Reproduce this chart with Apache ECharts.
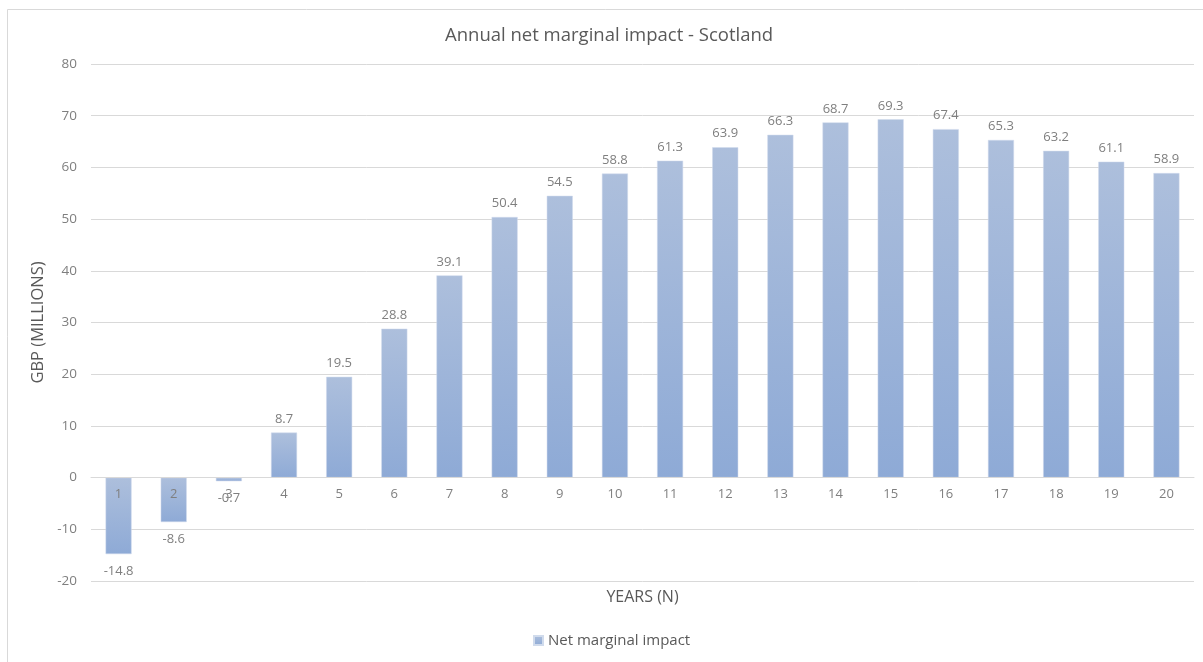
<!DOCTYPE html>
<html>
<head>
<meta charset="utf-8">
<script src="https://cdn.jsdelivr.net/npm/echarts@6/dist/echarts.min.js"></script>
<style>
  html, body { margin: 0; padding: 0; background: #ffffff; }
  #chart { width: 1203px; height: 662px; }
</style>
</head>
<body>
<div id="chart"></div>
<script>
// Year index on the horizontal axis
const years = ['1','2','3','4','5','6','7','8','9','10','11','12','13','14','15','16','17','18','19','20'];
// Net marginal impact per year, GBP millions
const netImpact = [-14.8, -8.6, -0.7, 8.7, 19.5, 28.8, 39.1, 50.4, 54.5, 58.8, 61.3, 63.9, 66.3, 68.7, 69.3, 67.4, 65.3, 63.2, 61.1, 58.9];

const FONT = '"Open Sans", "Liberation Sans", sans-serif';
const GREY = '#7f7f7f';

const Y_MIN = -20, Y_MAX = 80;
const GRID_TOP = 64, GRID_BOTTOM = 81, CHART_H = 662;
// distance from the bottom of the plot to the zero line, so the category axis sits on zero
const plotH = CHART_H - GRID_TOP - GRID_BOTTOM;
const zeroOffset = plotH * (0 - Y_MIN) / (Y_MAX - Y_MIN);

const barGradient = new echarts.graphic.LinearGradient(0, 0, 0, 1, [
  { offset: 0, color: '#adbfdc' },
  { offset: 1, color: '#8eaad6' }
]);

const chart = echarts.init(document.getElementById('chart'), null, { renderer: 'canvas' });

chart.setOption({
  backgroundColor: '#ffffff',
  animation: false,
  textStyle: { fontFamily: FONT },
  title: {
    text: 'Annual net marginal impact - Scotland',
    left: 440,
    top: 21,
    textStyle: { fontFamily: FONT, fontSize: 18.5, fontWeight: 'normal', color: '#595959' }
  },
  legend: {
    bottom: 9,
    left: 528,
    icon: 'rect',
    itemWidth: 9,
    itemHeight: 9,
    itemGap: 6,
    textStyle: { fontFamily: FONT, fontSize: 15, color: '#595959' },
    data: ['Net marginal impact']
  },
  graphic: [{
    type: 'rect',
    shape: { x: 7.5, y: 9.5, width: 1200, height: 700 },
    style: { fill: 'none', stroke: '#d9d9d9', lineWidth: 1 },
    silent: true
  }],
  grid: { left: 91, right: 9, top: GRID_TOP, bottom: GRID_BOTTOM, containLabel: false, outerBoundsMode: 'none' },
  xAxis: {
    type: 'category',
    data: years,
    z: 5,
    offset: -zeroOffset,
    name: 'YEARS (N)',
    nameLocation: 'middle',
    nameGap: 112,
    nameTextStyle: { fontFamily: FONT, fontSize: 16, color: '#595959' },
    axisLine: { onZero: false, lineStyle: { color: '#d9d9d9' } },
    axisTick: { show: false },
    axisLabel: { fontFamily: FONT, fontSize: 13, color: GREY, margin: 10 }
  },
  yAxis: {
    type: 'value',
    min: Y_MIN,
    max: Y_MAX,
    interval: 10,
    name: 'GBP (MILLIONS)',
    nameLocation: 'middle',
    nameGap: 40,
    nameTextStyle: { fontFamily: FONT, fontSize: 16.5, color: '#595959' },
    axisLine: { show: false },
    axisTick: { show: false },
    axisLabel: { fontFamily: FONT, fontSize: 13.5, color: GREY, margin: 14 },
    splitLine: { lineStyle: { color: '#d9d9d9', width: 1 } }
  },
  series: [{
    name: 'Net marginal impact',
    type: 'bar',
    barWidth: 26,
    itemStyle: { color: barGradient, borderColor: '#d0dbec', borderWidth: 0.5 },
    data: netImpact.map(v => ({
      value: v,
      label: { position: v < 0 ? 'bottom' : 'top', distance: v < 0 ? 11 : 7 }
    })),
    label: {
      show: true,
      fontFamily: FONT,
      fontSize: 13,
      color: GREY,
      formatter: p => p.value.toFixed(1)
    }
  }]
});
</script>
</body>
</html>
